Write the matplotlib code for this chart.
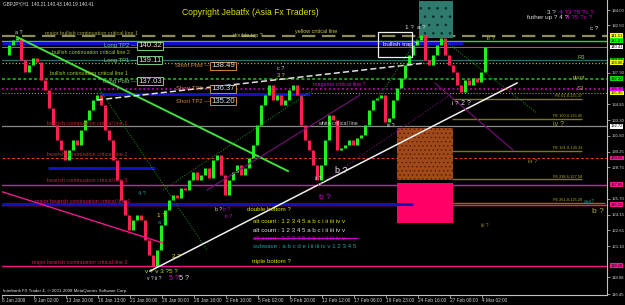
import matplotlib
matplotlib.use("Agg")
import matplotlib.pyplot as plt
import matplotlib.transforms as mtransforms
from matplotlib.patches import Rectangle

plt.rcParams['font.family'] = ['Liberation Sans', 'DejaVu Sans']
plt.rcParams['hatch.linewidth'] = 0.6

# ---------------- data ----------------
symbol_text = "GBPJPY,H1  140.21 140.43 140.19 140.41"
closes = [
    139.64, 140.61, 141.09, 141.28, 139.15, 137.99, 138.67, 139.34, 138.96, 137.21, 136.24, 134.49,
    132.85, 131.39, 130.42, 129.45, 130.42, 131.39, 130.91, 132.36, 133.33, 134.30, 135.27, 135.76,
    134.79, 132.36, 131.39, 129.45, 127.51, 125.57, 124.12, 122.66, 123.63, 124.12, 123.63, 121.69,
    120.24, 119.17, 120.72, 123.15, 124.60, 125.57, 126.06, 125.77, 126.74, 126.54, 127.51, 128.29,
    127.51, 128.00, 128.68, 127.71, 129.45, 129.94, 128.00, 126.06, 127.51, 128.29, 128.97, 128.00,
    128.68, 129.65, 130.91, 132.85, 134.79, 135.76, 136.73, 135.27, 135.76, 134.79, 135.27, 136.24,
    136.73, 135.76, 132.85, 131.39, 130.42, 128.97, 127.51, 128.97, 131.39, 133.82, 133.33, 130.42,
    130.62, 130.91, 131.39, 130.91, 131.59, 131.88, 132.85, 134.30, 135.27, 135.46, 135.76, 133.14,
    133.52, 135.27, 136.43, 137.40, 138.67, 139.64, 140.61, 141.09, 141.58, 139.15, 138.67, 139.64,
    140.61, 141.28, 139.64, 138.67, 137.99, 136.73, 136.05, 137.21, 136.73, 137.40, 137.02, 137.99,
    140.41,
]
date_labels = ["6 Jan 2009", "9 Jan 02:00", "13 Jan 20:00", "16 Jan 13:00", "21 Jan 06:00",
               "26 Jan 00:00", "28 Jan 16:00", "2 Feb 10:00", "5 Feb 02:00", "9 Feb 20:00",
               "12 Feb 12:00", "17 Feb 06:00", "19 Feb 23:00", "24 Feb 16:00", "27 Feb 08:00",
               "4 Mar 02:00"]
date_tick_bars = [-0.75 + 8 * k for k in range(16)]
price_ticks = [144.00, 142.50, 137.90, 134.85, 133.30, 131.80, 130.25, 128.75,
               125.70, 124.15, 122.65, 121.10, 118.08, 116.45]

# horizontal levels (price, color, style, width)
full_levels = [
    (141.51, '#8C8C5A', (0, (6, 3)), 1.6),
    (141.01, '#22E022', '-', 1.0),
    (140.41, '#8A8A8A', '-', 0.6),
    (139.13, '#2E6E6E', '-', 0.9),
    (138.88, '#B0B020', ':', 0.9),
    (137.32, '#20C020', (0, (2, 1.5)), 1.1),
    (136.30, '#D000D0', ':', 1.2),
    (135.95, '#A0A020', ':', 0.8),
    (132.72, '#8A8A8A', '-', 0.9),
    (129.65, '#E04010', (0, (3, 2)), 0.7),
    (127.05, '#F01890', '-', 1.0),
    (125.10, '#F01890', '-', 1.0),
    (119.20, '#F01890', '-', 1.0),
]
# blue segments (price, start bar, end bar)
blue_segments = [(140.80, -0.75, 114.5), (135.88, 23.75, 76.25), (128.67, 10.75, 37.5), (125.14, -0.75, 102.0)]
# Fibonacci expansion lines
fe_levels = [135.37, 133.45, 130.33, 127.58, 125.29]
fe_names = ["FE 61.8-135.37", "FE 100.0-133.45", "FE 161.8-130.33", "FE 238.6-127.58", "FE 261.8-125.29"]
fe_start, fe_end = 111.75, 144.25

# right-axis price boxes (price, label, background)
axis_boxes = [
    (141.51, "141.51", '#FFFF00'), (141.01, "141.01", '#00FF00'), (140.41, "140.41", '#FFFFFF'),
    (139.13, "139.13", '#00E000'), (138.88, "138.88", '#FFFF00'), (137.32, "137.32", '#00E000'),
    (136.30, "136.30", '#FF00FF'), (135.95, "135.95", '#FFFF00'), (132.72, "132.72", '#FFFFFF'),
    (129.65, "129.65", '#FF1493'), (127.05, "127.05", '#FF1493'), (125.10, "125.10", '#FF1493'),
    (119.20, "119.20", '#FF1493'),
]

# trend lines ((bar0, price0), (bar1, price1), color, style, width)
trend_lines = [
    ((3.0, 141.38), (70.75, 128.38), '#40E040', '-', 1.4),
    ((23.0, 135.27), (105.0, 138.86), '#E0E0E0', (0, (4, 2)), 1.1),
    ((36.25, 118.68), (128.0, 136.92), '#F0F0F0', '-', 1.1),
    ((-1.25, 126.44), (39.5, 121.40), '#F01890', '-', 1.0),
    ((23.75, 136.24), (50.5, 120.72), '#10A010', ':', 0.7),
    ((39.5, 126.54), (77.0, 136.24), '#10A010', ':', 0.7),
    ((93.0, 135.27), (103.75, 141.58), '#10A010', ':', 0.7),
    ((108.75, 141.38), (133.0, 134.01), '#10A010', ':', 0.7),
    ((50.5, 126.54), (88.75, 135.76), '#7A107A', '-', 0.8),
    ((107.5, 136.90), (127.0, 130.42), '#7A107A', '-', 0.8),
    ((78.25, 127.02), (112.0, 135.95), '#7A107A', ':', 0.8),
]

# --------------- figure ---------------
fig = plt.figure(figsize=(6.25, 3.05), dpi=100, facecolor='black')
ax = fig.add_axes([2 / 625, 10 / 305, 605 / 625, 295 / 305])
ax.set_facecolor('black')
ax.set_xlim(-0.75, 150.5)
ax.set_ylim(116.36, 144.97)

for s in ['left', 'top']:
    ax.spines[s].set_visible(False)
for s in ['right', 'bottom']:
    ax.spines[s].set_color('#C0C0C0')
    ax.spines[s].set_linewidth(0.8)

ax.yaxis.tick_right()
ax.set_yticks(price_ticks)
ax.set_yticklabels([f"{v:.2f}" for v in price_ticks])
ax.tick_params(axis='y', colors='#D0D0D0', labelsize=3.1, length=2, width=0.5, pad=1.5)
ax.set_xticks(date_tick_bars)
ax.set_xticklabels(date_labels)
ax.tick_params(axis='x', colors='#D0D0D0', labelsize=3.4, length=2, width=0.5, pad=0.5)
for lab in ax.get_xticklabels():
    lab.set_horizontalalignment('left')

# levels
for p, c, ls, lw in full_levels:
    ax.axhline(p, color=c, linestyle=ls, linewidth=lw, zorder=1)
for p, x0, x1 in blue_segments:
    ax.hlines(p, x0, x1, color='#1010C8', linewidth=2.2, zorder=1.5)
for p, name in zip(fe_levels, fe_names):
    ax.hlines(p, fe_start, fe_end if p > 125.5 else 150.0, color='#7A7A10', linewidth=1.0, zorder=1.5)
    ax.text(fe_end, p + 0.05, name, color='#B0B030', fontsize=2.8, ha='right', va='bottom', zorder=5)

# rectangles
ax.add_patch(Rectangle((103.5, 141.28), 8.5, 3.59, facecolor='#2F7A6C', edgecolor='#0E2A26',
                       linewidth=0, zorder=1.2, hatch='..'))
ax.add_patch(Rectangle((98.0, 127.51), 14.0, 5.04, facecolor='#A04A1A', edgecolor='#5A1E08',
                       zorder=1.2, hatch='....', linewidth=0))
ax.add_patch(Rectangle((98.0, 123.34), 14.0, 3.88, facecolor='#FF0066', edgecolor='none', zorder=1.2))
ax.add_patch(Rectangle((93.25, 139.44), 8.5, 2.43, facecolor='none', edgecolor='#F0F0F0', linewidth=0.9, zorder=4))

# trend lines
for (x0, y0), (x1, y1), c, ls, lw in trend_lines:
    ax.plot([x0, x1], [y0, y1], color=c, linestyle=ls, linewidth=lw, zorder=3)

# price bars
opens = [closes[0]] + closes[:-1]
xs = list(range(len(closes)))
lows = [min(o, c) for o, c in zip(opens, closes)]
highs = [max(o, c) for o, c in zip(opens, closes)]
cols = ['#20F020' if c >= o else '#FF2050' for o, c in zip(opens, closes)]
ax.vlines(xs, lows, highs, colors=cols, linewidth=2.2, zorder=2.5)

# right axis boxes
tr = mtransforms.blended_transform_factory(ax.transAxes, ax.transData)
for p, lab, bg in axis_boxes:
    ax.text(1.006, p, lab, transform=tr, fontsize=3.0, color='black', ha='left', va='center',
            bbox=dict(boxstyle='square,pad=0.1', facecolor=bg, edgecolor='none'), clip_on=False, zorder=6)

# ---------- texts ----------
def t(x, y, s, c, fs=3.9, **kw):
    ax.text(x, y, s, color=c, fontsize=fs, va='center', ha=kw.pop('ha', 'left'), zorder=6, **kw)

t(-0.5, 144.58, symbol_text, '#E0E0E0', 3.4)
t(44.25, 143.71, "Copyright Jebatfx (Asia Fx Traders)", '#E0E000', 6.2)
t(10.0, 141.70, "major bullish continuation critical line 1", '#A8A840')
t(57.0, 141.48, "double top ?", '#C8C860')
t(72.5, 141.90, "yellow critical line", '#C8C850')
t(11.75, 139.83, "bullish continuation critical line 2", '#9ACD32')
t(11.25, 137.89, "bullish continuation critical line 1", '#9ACD32')

for (xe, p, lab, val, col) in [(33.0, 140.51, "Long TP2 \u2014", "140.32", '#7CCD7C'),
                               (33.0, 139.15, "Long TP1 \u2014", "139.11", '#7CCD7C'),
                               (33.0, 137.11, "Long Post \u2014", "137.03", '#7CCD7C'),
                               (51.25, 138.57, "Short Post \u2014", "138.49", '#CD853F'),
                               (51.25, 136.34, "Short TP1 \u2014", "136.37", '#CD853F'),
                               (51.25, 135.17, "Short TP2 \u2014", "135.20", '#CD853F')]:
    t(xe, p, lab, col, 4.2, ha='right')
    ax.text(xe + 0.3, p, val, color='#E0E0E0', fontsize=5.6, va='center', ha='left', zorder=6,
            bbox=dict(boxstyle='square,pad=0.12', facecolor='black', edgecolor=col, linewidth=0.7))

t(77.0, 136.82, "magenta critical line ?", '#D000D0')
t(78.25, 133.04, "white critical line", '#C8C8C8')
t(10.5, 133.04, "bearish continuation critical line 1", '#B02828')
t(10.5, 129.94, "bearish continuation critical line 2", '#B83020')
t(10.5, 127.51, "bearish continuation critical line 3", '#C0204A')
t(7.5, 125.47, "major bearish continuation critical line 1", '#D02060')
t(6.75, 119.56, "major bearish continuation critical line 2", '#D02060')
t(94.5, 140.61, "bullish trap ?", '#F0F0F0', 4.4)
t(143.0, 139.44, "R3", '#B0B040', 4.2)
t(142.0, 137.50, "pivot", '#B0B040', 4.2)
t(143.0, 136.43, "S3", '#B0B040', 4.2)
t(137.0, 132.85, "iv ?", '#A0A040', 5.0)
t(130.75, 129.26, "iii ?", '#909030', 4.4)
t(146.75, 124.41, "b ?", '#B0B040', 6.0)
t(144.6, 125.38, "a+v?", '#20A0A0', 3.6)
t(135.5, 143.71, "3 ?", '#E0E0E0', 4.6)
t(138.5, 143.71, "4 ?3 ?5 ?c ?", '#D000D0', 4.6)
t(130.5, 143.32, "futher up ? 4 ?", '#E0E0E0', 4.6)
t(140.3, 143.32, "4 ?5 ?c ?", '#D000D0', 4.6)
t(146.25, 142.25, "c ?", '#E0E0E0', 4.6)
t(60.5, 124.70, "double bottom ?", '#E0E000', 4.4)
t(62.0, 123.44, "alt count : 1 2 3 4 5 a b c i ii iii iv v", '#E0E000', 4.4)
t(62.0, 122.66, "alt count : 1 2 3 4 5 a b c i ii iii iv v", '#E0E0E0', 4.4)
t(62.0, 121.88, "alt count : 1 2 3 4 5 a b c i ii iii iv v", '#D000D0', 4.4)
ax.hlines(121.88, 62.0, 88.25, color='#D000D0', linewidth=0.8, zorder=6)
t(62.0, 121.11, "subwave : a b c d e i ii iii iv v 1 2 3 4 5", '#20A0A0', 4.4)
t(61.75, 119.65, "triple bottom ?", '#E0E000', 4.4)
t(-0.5, 116.75, "Interbank FX Trader 4, \u00a9 2001-2008 MetaQuotes Software Corp.", '#E0E0E0', 3.2)

# wave labels
t(82.5, 128.40, "b ?", '#E0E0E0', 6.5)
t(78.5, 125.86, "b ?", '#D000D0', 6.0)
t(35.0, 118.60, "v ? v 3 ?5 ?", '#E0E000', 4.6)
t(35.5, 117.95, "v ? ii ?", '#E0E0E0', 3.6)
t(41.0, 117.95, "5 ?", '#D000D0', 5.2)
t(43.5, 117.95, "5 ?", '#E0E0E0', 5.2)
t(38.0, 124.10, "1 ?", '#E0E000', 4.6)
t(38.25, 123.40, "a ?", '#20A0A0', 4.0)
t(41.75, 120.05, "2 ?", '#E0E000', 4.6)
t(33.25, 126.20, "4 ?", '#20A0A0', 4.0)
t(52.5, 124.70, "b ?", '#E0E0E0', 3.6)
t(54.5, 124.70, "b ?", '#D000D0', 3.6)
t(55.0, 124.0, "b ?", '#D000D0', 3.6)
t(100.0, 142.30, "1 ?", '#E0E0E0', 4.6)
t(103.0, 142.30, "a ?", '#E0E0E0', 4.6)
t(120.5, 141.28, "ii ?", '#C8C840', 4.6)
t(111.75, 134.97, "i ?", '#E0E0E0', 4.6)
t(114.0, 134.97, "2 ?", '#E0E0E0', 5.0)
t(2.5, 141.85, "a ?", '#E0E0E0', 3.8)
t(68.0, 138.37, "c ?", '#E0E0E0', 4.0)
t(68.0, 137.60, "3 ?", '#E0E000', 4.0)
t(77.5, 127.70, "ii ?", '#E0E0E0', 3.6)
t(95.5, 132.80, "iii ?", '#E0E0E0', 3.6)
t(119.0, 123.10, "iii ?", '#909030', 3.6)

fig.savefig("out.png", dpi=100, facecolor='black')
